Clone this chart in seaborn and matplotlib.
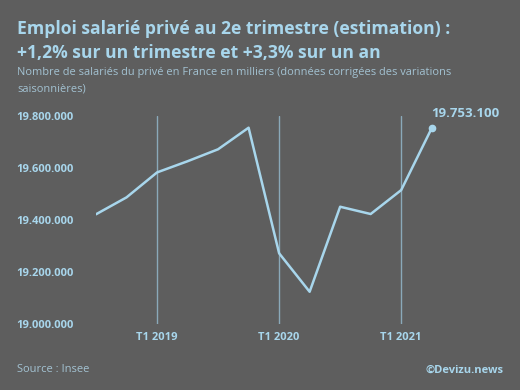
import matplotlib
matplotlib.use("Agg")
import matplotlib.pyplot as plt
import seaborn as sns
import pandas as pd

quarters = ["T3 2018", "T4 2018", "T1 2019", "T2 2019", "T3 2019", "T4 2019",
            "T1 2020", "T2 2020", "T3 2020", "T4 2020", "T1 2021", "T2 2021"]
emplois = [19422000, 19487000, 19583000, 19626000, 19672000, 19755000,
           19272000, 19124000, 19451000, 19423000, 19515000, 19753100]
yticks = [19000000, 19200000, 19400000, 19600000, 19800000]
ytick_labels = ["19.000.000", "19.200.000", "19.400.000", "19.600.000", "19.800.000"]
xtick_labels = ["T1 2019", "T1 2020", "T1 2021"]

BG = "#5e5e5e"
BLUE = "#a8d6ec"
VLINE = "#8aa9b9"
SUB = "#a3c2d2"

sns.set_theme(style="white")
plt.rcParams["font.family"] = ["Open Sans", "DejaVu Sans"]

df = pd.DataFrame({"idx": range(len(quarters)), "q": quarters, "v": emplois})

fig = plt.figure(figsize=(5.2, 3.9), dpi=100, facecolor=BG)
W, H = 520, 390
x0, x1 = 96, 431.7
ytop, ybot = 116, 324
ax = fig.add_axes([x0 / W, (H - ybot) / H, (x1 - x0) / W, (ybot - ytop) / H])
ax.set_facecolor(BG)

xt = [quarters.index(t) for t in xtick_labels]
for x in xt:
    ax.axvline(x, color=VLINE, lw=1.0, zorder=1)

sns.lineplot(data=df, x="idx", y="v", ax=ax, color=BLUE, lw=1.8, zorder=3)
last = df.iloc[-1]
ax.plot([last["idx"]], [last["v"]], "o", color=BLUE, ms=4.5, zorder=4, clip_on=False)
ax.annotate("{:,}".format(int(last["v"])).replace(",", "."),
            (last["idx"], last["v"]), xytext=(0, 6), textcoords="offset points",
            ha="left", va="bottom", color=BLUE, fontsize=9.5, fontweight="bold",
            annotation_clip=False)

ax.set_xlim(0, len(quarters) - 1)
ax.set_ylim(19000000, 19800000)
ax.set_yticks(yticks)
ax.set_yticklabels(ytick_labels)
ax.set_xticks(xt)
ax.set_xticklabels(xtick_labels)
ax.tick_params(axis="y", length=0, pad=16, colors=BLUE, labelsize=8)
ax.tick_params(axis="x", length=0, pad=6, colors=BLUE, labelsize=8)
for lab in ax.get_yticklabels() + ax.get_xticklabels():
    lab.set_fontweight("bold")
ax.set_xlabel("")
ax.set_ylabel("")
for s in ax.spines.values():
    s.set_visible(False)

renderer = fig.canvas.get_renderer()

def fit_text(x, y, s, width_px, **kw):
    t = fig.text(x / W, 1 - y / H, s, va="center", ha="left", **kw)
    w = t.get_window_extent(renderer).width
    t.set_fontsize(t.get_fontsize() * width_px / w)
    return t

t1 = fit_text(17, 29, "Emploi salarié privé au 2e trimestre (estimation) :", 433,
              color=BLUE, fontsize=12, fontweight="bold")
fig.text(17 / W, 1 - 53 / H, "+1,2% sur un trimestre et +3,3% sur un an",
         color=BLUE, fontweight="bold", va="center", ha="left",
         fontsize=t1.get_fontsize())
s1 = fit_text(17, 73, "Nombre de salariés du privé en France en milliers (données corrigées des variations", 433,
              color=SUB, fontsize=8, fontweight="normal")
fig.text(17 / W, 1 - 89 / H, "saisonnières)", color=SUB, fontsize=s1.get_fontsize(),
         fontweight="normal", va="center", ha="left")
fig.text(17 / W, 1 - 370 / H, "Source : Insee", color=SUB, fontsize=8,
         fontweight="normal", va="center", ha="left")
fig.text(503 / W, 1 - 370 / H, "©Devizu.news", color=BLUE, fontsize=8,
         fontweight="bold", va="center", ha="right")

fig.savefig("out.png", dpi=100, facecolor=BG)
